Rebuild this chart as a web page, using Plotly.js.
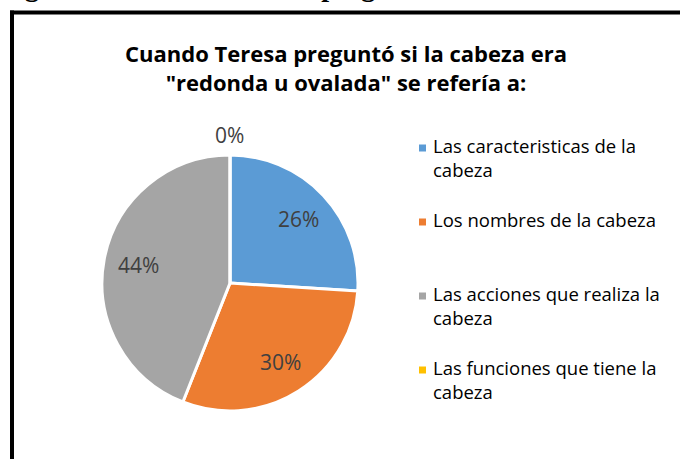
<!DOCTYPE html>
<html>
<head>
<meta charset="utf-8">
<script src="https://cdn.plot.ly/plotly-3.0.1.min.js"></script>
<style>
html,body{margin:0;padding:0;background:#fff;}
#chart{width:680px;height:459px;}
</style>
</head>
<body>
<div id="chart"></div>
<script>
// ---- data ----
var categories = [
  "Las caracteristicas de la cabeza",
  "Los nombres de la cabeza",
  "Las acciones que realiza la cabeza",
  "Las funciones que tiene la cabeza"
];
var values = [26, 30, 44, 0];
var colors = ["#5B9BD5", "#ED7D31", "#A5A5A5", "#FFC000"];
var chartTitle = 'Cuando Teresa preguntó si la cabeza era<br>"redonda u ovalada" se refería a:';
var captionText = "Figura 11: Resultado de la pregunta";

// ---- layout helpers (figure pixels -> paper) ----
var W = 680, H = 459;
function px(x){ return x / W; }
function py(y){ return 1 - y / H; }

function wrap(s, maxChars){
  var words = s.split(" "), lines = [], cur = "";
  words.forEach(function(w){
    var t = cur ? cur + " " + w : w;
    if (t.length > maxChars && cur) { lines.push(cur); cur = w; } else { cur = t; }
  });
  if (cur) lines.push(cur);
  return lines.join("<br>");
}

var cx = 230, cy = 283, R = 128;
var total = values.reduce(function(a,b){return a+b;}, 0);

var labelFont = {family: "Open Sans, sans-serif", size: 21, color: "#404040"};

var trace = {
  type: "pie",
  labels: categories,
  values: values,
  sort: false,
  direction: "clockwise",
  rotation: 0,
  marker: {colors: colors, line: {color: "#FFFFFF", width: 3}},
  textinfo: "none",
  showlegend: false,
  hoverinfo: "label+percent",
  domain: {x: [px(cx - R), px(cx + R)], y: [py(cy + R), py(cy - R)]}
};

var annotations = [];
var shapes = [];

// percentage labels, placed along each slice's mid-angle
var cum = 0;
values.forEach(function(v, i){
  var mid = (cum + v / 2) / total * 2 * Math.PI;
  cum += v;
  var rr = v > 0 ? R * 0.73 : R + 20;
  annotations.push({
    xref: "paper", yref: "paper",
    x: px(cx + rr * Math.sin(mid)), y: py(cy - rr * Math.cos(mid)),
    xanchor: "center", yanchor: "middle",
    text: Math.round(v / total * 100) + "%",
    showarrow: false, font: labelFont
  });
});

// legend built from categories
var legFont = {family: "Open Sans, sans-serif", size: 18.5, color: "#000000"};
var legTop = 131, legStep = 74;
categories.forEach(function(c, i){
  var top = legTop + i * legStep;
  annotations.push({
    xref: "paper", yref: "paper",
    x: px(431), y: py(top),
    xanchor: "left", yanchor: "top", align: "left",
    text: wrap(c, 27), showarrow: false, font: legFont
  });
  shapes.push({
    type: "rect", xref: "paper", yref: "paper",
    x0: px(419), x1: px(426), y0: py(top + 20.5), y1: py(top + 13.5),
    fillcolor: colors[i], line: {width: 0}
  });
});

// cropped caption above the chart box
annotations.push({
  xref: "paper", yref: "paper", x: px(-2), y: py(-14),
  xanchor: "left", yanchor: "middle",
  text: "<b>" + captionText + "</b>", showarrow: false,
  font: {family: "Liberation Serif, serif", size: 28, color: "#000"}
});

// frame lines
shapes.push({type: "line", xref: "paper", yref: "paper",
  x0: px(10), x1: px(680), y0: py(12.5), y1: py(12.5), line: {color: "#000", width: 4}});
shapes.push({type: "line", xref: "paper", yref: "paper",
  x0: px(12), x1: px(12), y0: py(10.5), y1: py(459), line: {color: "#000", width: 4}});

var layout = {
  width: W, height: H,
  margin: {l: 0, r: 0, t: 0, b: 0},
  paper_bgcolor: "#FFFFFF",
  showlegend: false,
  title: {
    text: chartTitle,
    font: {family: "Open Sans, sans-serif", size: 22, color: "#000", weight: "bold"},
    x: px(346), xanchor: "center",
    y: py(62), yanchor: "top", yref: "container"
  },
  annotations: annotations,
  shapes: shapes
};

Plotly.newPlot("chart", [trace], layout, {displayModeBar: false, staticPlot: true});
</script>
</body>
</html>
